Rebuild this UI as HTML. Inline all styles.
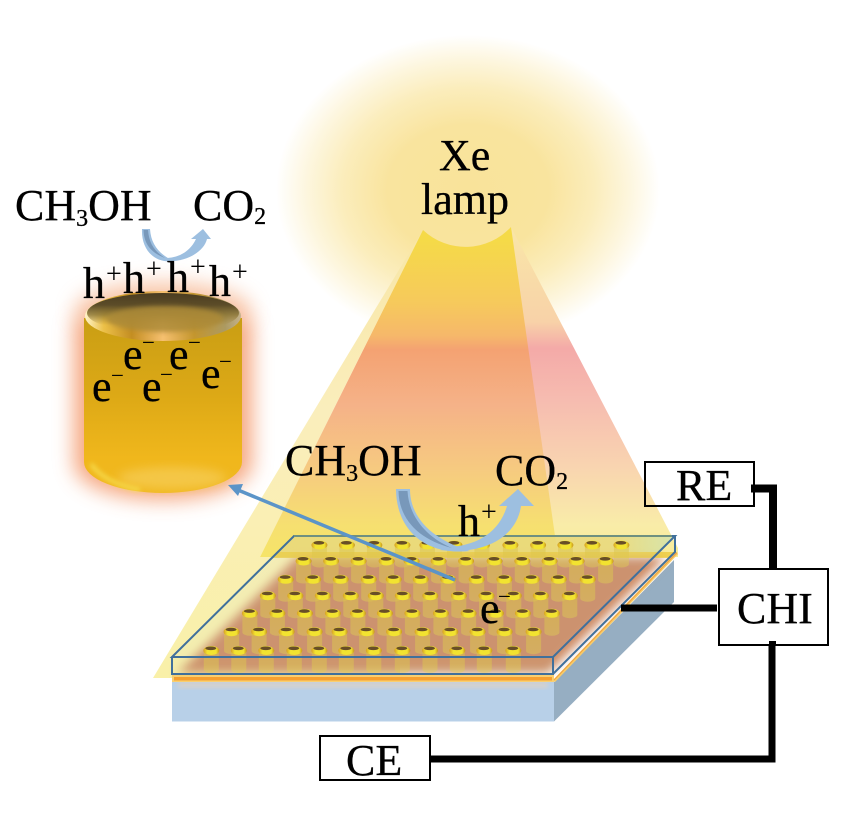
<!DOCTYPE html>
<html>
<head>
<meta charset="utf-8">
<style>
html,body{margin:0;padding:0;background:#fff;}
svg{display:block;}
text{font-family:"Liberation Serif",serif;font-size:44px;fill:#000;stroke:#000;stroke-width:.3px;}
.s{font-size:24px;}
.p{font-size:28px;stroke-width:0;}
.m{font-size:23px;stroke-width:0;}
</style>
</head>
<body>
<svg width="858" height="816" viewBox="0 0 858 816" xmlns="http://www.w3.org/2000/svg">
<defs>
<radialGradient id="glow" gradientUnits="userSpaceOnUse" cx="0" cy="0" r="1" gradientTransform="translate(468 190) scale(192 155)">
<stop offset="0" stop-color="#f9e39a"/><stop offset="0.42" stop-color="#f9e49e"/>
<stop offset="0.66" stop-color="#fbedbc"/><stop offset="0.84" stop-color="#fdf6de"/><stop offset="1" stop-color="#fff"/>
</radialGradient>
<linearGradient id="outerL" gradientUnits="userSpaceOnUse" x1="0" y1="230" x2="0" y2="680">
<stop offset="0" stop-color="#f8e6a6"/><stop offset="0.4" stop-color="#faeebc"/><stop offset="1" stop-color="#f9f0a8"/>
</linearGradient>
<linearGradient id="outerR" gradientUnits="userSpaceOnUse" x1="0" y1="230" x2="0" y2="558">
<stop offset="0" stop-color="#f9e6a8"/><stop offset="0.28" stop-color="#f8d2a8"/><stop offset="0.36" stop-color="#f4aaa8"/>
<stop offset="0.52" stop-color="#f6bcb0"/><stop offset="0.72" stop-color="#f9d4b0"/><stop offset="0.9" stop-color="#f9eca8"/><stop offset="1" stop-color="#f8ee98"/>
</linearGradient>
<linearGradient id="inner" gradientUnits="userSpaceOnUse" x1="0" y1="240" x2="0" y2="558">
<stop offset="0" stop-color="#f5da48"/><stop offset="0.2" stop-color="#f6c95c"/><stop offset="0.3" stop-color="#f6b86a"/>
<stop offset="0.345" stop-color="#f4a272"/><stop offset="0.52" stop-color="#f5b288"/><stop offset="0.72" stop-color="#f6ca80"/>
<stop offset="0.9" stop-color="#f6e070"/><stop offset="1" stop-color="#f6e468"/>
</linearGradient>
<linearGradient id="cyl" x1="0" y1="0" x2="0" y2="1">
<stop offset="0" stop-color="#c99e14"/><stop offset="0.45" stop-color="#dda916"/><stop offset="0.8" stop-color="#f0b71c"/><stop offset="1" stop-color="#f0b820"/>
</linearGradient>
<linearGradient id="rim" x1="0" y1="0" x2="1" y2="0">
<stop offset="0" stop-color="#fff4c8"/><stop offset="0.12" stop-color="#ecc048"/><stop offset="0.3" stop-color="#c48e22"/><stop offset="0.5" stop-color="#f6c070"/>
<stop offset="0.7" stop-color="#c4962e"/><stop offset="0.9" stop-color="#ac9a62"/><stop offset="1" stop-color="#c4b28c"/>
</linearGradient>
<linearGradient id="capD" x1="0" y1="0" x2="0" y2="1">
<stop offset="0" stop-color="#4a3c20"/><stop offset="0.3" stop-color="#5c4c28"/><stop offset="0.55" stop-color="#8a7434" stop-opacity=".8"/><stop offset="0.8" stop-color="#a08030" stop-opacity="0"/>
</linearGradient>
<linearGradient id="body" x1="0" y1="0" x2="0" y2="1">
<stop offset="0" stop-color="#dcbc38" stop-opacity=".55"/><stop offset="1" stop-color="#e4d040" stop-opacity=".42"/>
</linearGradient>
<linearGradient id="capP" x1="0" y1="0" x2="1" y2="0">
<stop offset="0" stop-color="#d89810"/><stop offset="0.25" stop-color="#f8e41c"/><stop offset="0.8" stop-color="#f8e41c"/><stop offset="1" stop-color="#c88c08"/>
</linearGradient>
<linearGradient id="band" x1="0" y1="0" x2="1" y2="0">
<stop offset="0" stop-color="#eed870"/><stop offset="0.85" stop-color="#eed870"/><stop offset="1" stop-color="#d4e4a8"/>
</linearGradient>
<filter id="b10" x="-40%" y="-40%" width="180%" height="180%"><feGaussianBlur stdDeviation="10"/></filter>
<filter id="b5" x="-30%" y="-30%" width="160%" height="160%"><feGaussianBlur stdDeviation="5"/></filter>
<filter id="b3" x="-30%" y="-30%" width="160%" height="160%"><feGaussianBlur stdDeviation="2.5"/></filter>
<g id="pil">
<path d="M-7.500 0V19a7.500 3.500 0 0 0 15 0V0Z" fill="url(#body)"/>
<ellipse cx="0" cy="0" rx="8" ry="4.500" fill="url(#capP)"/>
<ellipse cx="-0.5" cy="-2.2" rx="5.500" ry="1.800" fill="#5e3e12"/>
</g>
<g id="row">
<use href="#pil" x="0"/><use href="#pil" x="27.5"/><use href="#pil" x="55"/><use href="#pil" x="83"/>
<use href="#pil" x="108"/><use href="#pil" x="135"/><use href="#pil" x="162.5"/><use href="#pil" x="191"/>
<use href="#pil" x="218.7"/><use href="#pil" x="246"/><use href="#pil" x="273"/><use href="#pil" x="302"/>
</g>
</defs>

<rect width="858" height="816" fill="#fff"/>
<ellipse cx="468" cy="190" rx="192" ry="155" fill="url(#glow)"/>

<!-- light cone -->
<path d="M423 230L153 678H400V557H260Z" fill="url(#outerL)"/>
<path d="M511 227L678 548V557H540Z" fill="url(#outerR)"/>
<path d="M423 230A62 62 0 0 0 511 227L558 557H260Z" fill="url(#inner)"/>

<!-- cylinder -->
<path d="M74 318H252V464A89 36 0 0 1 74 464Z" fill="#f4986a" opacity=".85" filter="url(#b10)"/>
<ellipse cx="163" cy="310" rx="88" ry="28" fill="#f4a070" opacity=".6" filter="url(#b10)"/>
<path d="M84 318V462A79 31 0 0 0 242 462V318Z" fill="url(#cyl)"/>
<ellipse cx="172" cy="478" rx="54" ry="11" fill="#f6cc54" opacity=".75" filter="url(#b5)"/>
<path d="M91 464C100 477 118 486 140 490" fill="none" stroke="#f8e458" stroke-width="3.500" opacity=".85" filter="url(#b3)"/>
<ellipse cx="163" cy="316" rx="78" ry="25" fill="url(#rim)"/>
<ellipse cx="163" cy="313" rx="76" ry="20" fill="url(#capD)"/>
<ellipse cx="165" cy="319" rx="58" ry="13" fill="#ac8a38" opacity=".85" filter="url(#b3)"/>

<!-- base -->
<rect x="172" y="682" width="382" height="39.500" fill="#b8d0e8"/>
<path d="M554 682L674 560V602L554 721.500Z" fill="#96aec2"/>
<rect x="178" y="682" width="370" height="6" fill="#f4d4b4" opacity=".5" filter="url(#b3)"/>

<!-- substrate -->
<path d="M178 673L297 557H666L548 673Z" fill="#cd8a64" filter="url(#b5)"/>
<path d="M294 536H675L659 552H278Z" fill="url(#band)" opacity=".85"/>
<path d="M278 552H676L670 558H272Z" fill="#ecc838" opacity=".75"/>

<!-- gold/orange layer -->
<rect x="172" y="675" width="382" height="7" fill="#f9cf70"/>
<rect x="174" y="677" width="378" height="3.500" fill="#f7a030"/>
<path d="M554 681L677 553" stroke="#f8cc68" stroke-width="3" fill="none"/>
<path d="M554 680L677 552.500" stroke="#f0a040" stroke-width="1" fill="none"/>

<!-- pillars -->
<use href="#row" x="319.4" y="545"/>
<use href="#row" x="303.6" y="561"/>
<use href="#row" x="285.7" y="579.3"/>
<use href="#row" x="267.8" y="595.7"/>
<use href="#row" x="249.9" y="613.3"/>
<use href="#row" x="231.6" y="631.7"/>
<use href="#row" x="211.3" y="650.5"/>

<!-- glass -->
<path d="M172 657L294 536H675L553 657Z" fill="#c8e0e0" opacity=".1"/>
<path d="M172 657H553V674H172Z" fill="#cfe0c0" opacity=".12"/>
<path d="M172 657L294 536H675L553 657ZM172 657V674H553V657M553 674L675 552V536" fill="none" stroke="#40709c" stroke-width="2"/>
<path d="M294 536H672" fill="none" stroke="#6f9080" stroke-width="2"/>

<!-- electron arrow -->
<path d="M455 580L238 490" stroke="#5b94c8" stroke-width="3.500" fill="none"/>
<path d="M228 485L243 484L238 496Z" fill="#5b94c8"/>

<!-- lower curved arrow -->
<path d="M440 550C480 555 516 540 521 506H534L518 489L499 506H507C500 530 480 545 450 547Z" fill="#9dbfe0"/>
<path d="M396 489H410C410 515 428 538 470 551C420 556 396 525 396 489Z" fill="#9dbfe0"/>
<path d="M398.500 491H407.500C409 518 428 538 452 548C420 540 399 520 398.500 491Z" fill="#7898ba"/>

<!-- upper curved arrow -->
<path d="M165 261C185 263 204 252 207 239H211L203 229L191 239H196C190 252 178 258 165 258Z" fill="#9dbfe0"/>
<path d="M142 229H150C151 245 160 255 174 261C155 264 141 250 142 229Z" fill="#9dbfe0"/>
<path d="M143.500 230H148C149 243 154 251 165 258C152 253 144 245 143.500 230Z" fill="#7898ba"/>

<!-- labels -->
<text x="439" y="170">Xe</text>
<text x="421" y="214">lamp</text>
<text x="15" y="220">CH<tspan class="s" dy="6">3</tspan><tspan dy="-6">OH</tspan></text>
<text x="193" y="220">CO<tspan class="s" dy="4">2</tspan></text>
<text x="285" y="475">CH<tspan class="s" dy="6">3</tspan><tspan dy="-6">OH</tspan></text>
<text x="495" y="485">CO<tspan class="s" dy="4">2</tspan></text>

<text x="458" y="536">h</text><text class="p" x="481" y="521">+</text>

<text x="83" y="298">h</text><text class="p" x="106" y="283">+</text>
<text x="123" y="293">h</text><text class="p" x="146" y="278">+</text>
<text x="167" y="292">h</text><text class="p" x="190" y="276">+</text>
<text x="209" y="296">h</text><text class="p" x="232" y="281">+</text>

<text x="92" y="401">e</text><text class="m" x="111" y="383">−</text>
<text x="123" y="369">e</text><text class="m" x="142" y="350">−</text>
<text x="142" y="401">e</text><text class="m" x="160" y="382">−</text>
<text x="169" y="369">e</text><text class="m" x="188" y="350">−</text>
<text x="201" y="388">e</text><text class="m" x="219" y="369">−</text>
<text x="480" y="623">e</text><text class="m" x="498" y="604">−</text>

<!-- wires -->
<path d="M751 488.500H773V568" fill="none" stroke="#000" stroke-width="8"/>
<path d="M621 608H717" fill="none" stroke="#000" stroke-width="7"/>
<path d="M772 641V759H430" fill="none" stroke="#000" stroke-width="7"/>

<!-- boxes -->
<rect x="645" y="462" width="109" height="44" fill="none" stroke="#000" stroke-width="2"/>
<rect x="719" y="569" width="109" height="76" fill="#fff" stroke="#000" stroke-width="2"/>
<path d="M769 641h7v4h-7z" fill="#000"/>
<rect x="320" y="736" width="110" height="44" fill="#fff" stroke="#000" stroke-width="2"/>
<text x="676" y="500">RE</text>
<text x="737" y="623">CHI</text>
<text x="346" y="775">CE</text>
</svg>
</body>
</html>
